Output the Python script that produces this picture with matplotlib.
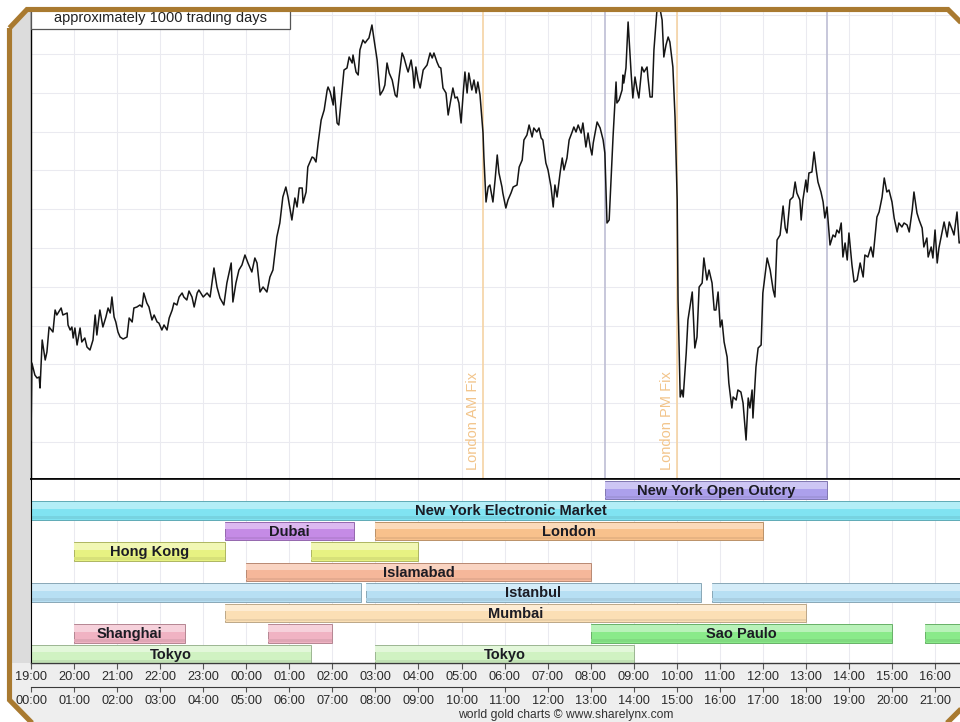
import numpy as np
import matplotlib
matplotlib.use("Agg")
import matplotlib.pyplot as plt
from matplotlib.patches import Rectangle, Polygon, PathPatch
from matplotlib.path import Path
from matplotlib import colors as mcolors

plt.rcParams['font.family'] = ['Liberation Sans', 'DejaVu Sans']

# ---------------- data ----------------
# hours after 19:00 (top clock) and a relative gold price index (axis unlabeled)
price_hours = [
    0.00, 0.02, 0.09, 0.14, 0.19, 0.21, 0.26, 0.33, 0.37, 0.42, 0.51, 0.56, 0.60, 0.70, 0.74, 0.84, 0.86, 0.91, 0.95, 0.98,
    1.02, 1.07, 1.14, 1.18, 1.25, 1.30, 1.37, 1.44, 1.49, 1.53, 1.60, 1.67, 1.74, 1.79, 1.84, 1.88, 1.93, 1.97,
    2.02, 2.07, 2.14, 2.23, 2.28, 2.35, 2.39, 2.46, 2.53, 2.58, 2.62, 2.69, 2.74, 2.81, 2.86, 2.93, 2.97,
    3.04, 3.09, 3.16, 3.21, 3.28, 3.32, 3.39, 3.44, 3.51, 3.55, 3.62, 3.67, 3.74, 3.79, 3.86, 3.90,
    4.00, 4.09, 4.16, 4.25, 4.32, 4.39, 4.48, 4.55, 4.65, 4.69, 4.76, 4.83, 4.90, 4.97,
    5.04, 5.13, 5.20, 5.25, 5.32, 5.39, 5.48, 5.55, 5.62, 5.71, 5.78, 5.85, 5.92, 5.97,
    6.06, 6.13, 6.18, 6.23, 6.30, 6.32, 6.39, 6.43, 6.53, 6.57, 6.62, 6.67, 6.74, 6.81, 6.88, 6.90, 6.95,
    7.02, 7.04, 7.11, 7.15, 7.27, 7.34, 7.39, 7.46, 7.48, 7.55, 7.60, 7.64, 7.71, 7.76, 7.81, 7.85, 7.92, 7.97,
    8.04, 8.11, 8.18, 8.22, 8.27, 8.32, 8.39, 8.46, 8.50, 8.55, 8.62, 8.66, 8.73, 8.76, 8.83, 8.87, 8.90, 8.94, 8.99,
    9.04, 9.11, 9.20, 9.27, 9.32, 9.36, 9.43, 9.48, 9.52, 9.57, 9.64, 9.69, 9.76, 9.80, 9.85, 9.90, 9.94, 9.99,
    10.04, 10.08, 10.13, 10.17, 10.24, 10.29, 10.34, 10.38, 10.43, 10.50, 10.52, 10.57, 10.62, 10.66, 10.73, 10.78, 10.83, 10.87, 10.94, 10.96,
    11.03, 11.08, 11.15, 11.20, 11.29, 11.34, 11.41, 11.45, 11.52, 11.57, 11.64, 11.68, 11.75, 11.80, 11.85, 11.89, 11.96,
    12.01, 12.08, 12.13, 12.17, 12.22, 12.29, 12.34, 12.38, 12.45, 12.50, 12.57, 12.61, 12.66, 12.71, 12.78, 12.82, 12.89, 12.94, 12.99,
    13.03, 13.06, 13.15, 13.22, 13.29, 13.33, 13.38, 13.43, 13.52, 13.59, 13.61, 13.66, 13.73, 13.75, 13.77, 13.82, 13.87, 13.94, 13.98,
    14.03, 14.08, 14.12, 14.19, 14.24, 14.31, 14.33, 14.38, 14.43, 14.47, 14.54, 14.59, 14.66, 14.70, 14.75, 14.80, 14.84, 14.91, 14.96,
    15.01, 15.03, 15.08, 15.12, 15.15, 15.22, 15.26, 15.36, 15.42, 15.47, 15.52, 15.59, 15.63, 15.70, 15.75, 15.82, 15.87, 15.91, 15.96,
    16.01, 16.05, 16.10, 16.17, 16.21, 16.28, 16.31, 16.38, 16.42, 16.49, 16.54, 16.61, 16.66, 16.70, 16.75, 16.77, 16.84, 16.89, 16.96,
    17.00, 17.10, 17.17, 17.24, 17.28, 17.33, 17.40, 17.47, 17.52, 17.56, 17.63, 17.70, 17.75, 17.79, 17.86, 17.89, 17.93,
    18.00, 18.03, 18.07, 18.14, 18.19, 18.24, 18.28, 18.35, 18.40, 18.44, 18.49, 18.56, 18.63, 18.68, 18.72, 18.77, 18.82, 18.86, 18.91, 18.96,
    19.00, 19.07, 19.12, 19.19, 19.26, 19.33, 19.37, 19.44, 19.51, 19.56, 19.65, 19.70, 19.77, 19.82, 19.88, 19.93,
    20.00, 20.05, 20.12, 20.16, 20.23, 20.28, 20.35, 20.40, 20.47, 20.51, 20.58, 20.63, 20.70, 20.74, 20.81, 20.84, 20.91, 20.95,
    21.00, 21.05, 21.09, 21.16, 21.21, 21.28, 21.33, 21.40, 21.44, 21.51, 21.56, 21.63,
]
price_index = [
    40, 117, 105, 102, 103, 92, 140, 120, 128, 153, 148, 170, 165, 172, 165, 167, 155, 150, 153, 142,
    152, 135, 152, 138, 142, 133, 130, 140, 165, 145, 170, 153, 163, 172, 167, 183, 163, 158,
    148, 143, 141, 143, 162, 158, 172, 173, 175, 173, 187, 177, 173, 160, 165, 158, 157,
    150, 155, 150, 162, 170, 177, 175, 183, 187, 183, 180, 189, 183, 173, 187, 190,
    183, 187, 183, 212, 193, 182, 175, 197, 217, 178, 197, 210, 215, 225,
    217, 208, 222, 217, 188, 193, 188, 203, 210, 243, 257, 283, 293, 283,
    260, 282, 273, 292, 292, 277, 288, 313, 323, 322, 318, 337, 360, 370, 390, 393, 388,
    375, 393, 357, 355, 410, 412, 423, 417, 425, 408, 405, 430, 440, 437, 440, 442, 455, 440,
    420, 385, 390, 395, 417, 407, 400, 385, 383, 403, 427, 423, 412, 408, 420, 408, 392, 413, 400,
    392, 410, 415, 427, 422, 427, 418, 413, 412, 392, 387, 365, 382, 392, 382, 383, 377, 357,
    387, 408, 387, 407, 390, 400, 387, 398, 385, 347, 323, 278, 293, 295, 278, 300, 325, 307, 293, 287,
    272, 280, 287, 293, 295, 313, 320, 340, 345, 355, 343, 352, 348, 352, 342, 340, 317,
    310, 293, 273, 295, 283, 307, 322, 310, 322, 340, 348, 353, 348, 355, 347, 357, 333, 347, 333,
    325, 337, 358, 352, 340, 327, 257, 260, 343, 398, 377, 380, 390, 405, 397, 412, 458, 407, 382,
    403, 390, 382, 413, 408, 413, 403, 383, 383, 430, 470, 476, 460, 423, 435, 443, 438, 413, 363,
    280, 180, 83, 90, 83, 127, 160, 188, 132, 143, 193, 197, 222, 200, 210, 197, 170, 170, 188,
    153, 160, 138, 123, 97, 72, 83, 80, 90, 88, 77, 40, 82, 72, 90, 62, 113, 132, 135,
    187, 222, 210, 190, 183, 240, 245, 274, 252, 247, 280, 283, 298, 287, 280, 260, 280,
    300, 288, 307, 308, 328, 310, 298, 288, 278, 262, 273, 235, 245, 243, 250, 247, 257, 223, 237, 220,
    247, 215, 198, 200, 217, 203, 225, 223, 233, 223, 263, 268, 283, 302, 288, 290,
    278, 262, 248, 257, 253, 257, 255, 248, 270, 288, 267, 260, 252, 233, 242, 223, 233, 222,
    250, 217, 232, 247, 258, 243, 258, 250, 245, 268, 237, 240,
]

top_tick_labels = ["19:00", "20:00", "21:00", "22:00", "23:00", "00:00", "01:00", "02:00",
                   "03:00", "04:00", "05:00", "06:00", "07:00", "08:00", "09:00", "10:00",
                   "11:00", "12:00", "13:00", "14:00", "15:00", "16:00"]
bottom_tick_labels = ["00:00", "01:00", "02:00", "03:00", "04:00", "05:00", "06:00", "07:00",
                      "08:00", "09:00", "10:00", "11:00", "12:00", "13:00", "14:00", "15:00",
                      "16:00", "17:00", "18:00", "19:00", "20:00", "21:00"]

fix_names = ["London AM Fix", "London PM Fix"]
fix_hours = [10.5, 15.0]
outcry_hours = [13.33, 18.5]

market_names = ["New York Open Outcry", "New York Electronic Market", "Dubai", "London",
                "Hong Kong", "Islamabad", "Istanbul", "Mumbai", "Shanghai", "Sao Paulo", "Tokyo"]
market_rows = [0, 1, 2, 2, 3, 4, 5, 6, 7, 7, 8]
market_sessions = [
    [(13.33, 18.5)],
    [(0.0, 22.3)],
    [(4.5, 7.5)],
    [(8.0, 17.0)],
    [(1.0, 4.5), (6.5, 9.0)],
    [(5.0, 13.0)],
    [(0.0, 7.67), (7.78, 15.56), (15.81, 24.0)],
    [(4.5, 18.0)],
    [(1.0, 3.58), (5.5, 7.0)],
    [(13.0, 20.0), (20.77, 24.0)],
    [(0.0, 6.5), (8.0, 14.0)],
]
market_labelled = [[0], [0], [0], [0], [0], [0], [1], [0], [0], [0], [0, 1]]
market_colors = ['#ACA0EC', '#80E3F2', '#C58BE6', '#F8C18C', '#E7F282', '#F5B79A',
                 '#B7DFF3', '#FBDFB5', '#F0B3C3', '#8AEA8A', '#D0F2C2']

legend_text = "approximately 1000 trading days"
footer_text = "world gold charts \u00a9 www.sharelynx.com"

# ---------------- layout ----------------
W, H = 960, 722
PXH = 43.05       # pixels per hour
X0, XR = 31, 970  # left edge of plots, right edge (beyond image)
xmax = (XR - X0) / PXH

fig = plt.figure(figsize=(W / 100, H / 100), dpi=100)
fig.patch.set_facecolor('white')


def fx(px):
    return px / W


def fy(py):
    return 1 - py / H


octagon_px = [(9.5, 28), (27, 9.5), (948, 9.5), (966, 27.5), (966, 704), (946, 724), (33, 724), (9.5, 700)]
octagon = [(fx(x), fy(y)) for x, y in octagon_px]

fig.add_artist(Polygon(octagon, closed=True, transform=fig.transFigure,
                       facecolor='#DCDCDC', edgecolor='none', zorder=-5))
fig.add_artist(Rectangle((fx(9.5), fy(724)), fx(966) - fx(9.5), (724 - 663) / H,
                         transform=fig.transFigure, facecolor='#EEEEEE', edgecolor='none', zorder=-4))

grid_c = '#EAEAF0'

# ---- price panel ----
ax_p = fig.add_axes([fx(X0), fy(479), fx(XR) - fx(X0), 479 / H])
ax_p.set_facecolor('white')
ax_p.set_xlim(0, xmax)
ax_p.set_ylim(1, 480)
for s in ['top', 'right']:
    ax_p.spines[s].set_visible(False)
ax_p.spines['left'].set_color('black')
ax_p.spines['left'].set_linewidth(1.0)
ax_p.spines['bottom'].set_color('black')
ax_p.spines['bottom'].set_linewidth(1.2)
ax_p.set_xticks(range(0, 22))
ax_p.set_yticks(np.arange(38, 480, 38.8))
ax_p.tick_params(length=0, labelbottom=False, labelleft=False)
ax_p.grid(True, color=grid_c, lw=0.75)
ax_p.set_axisbelow(True)

for h in outcry_hours:
    ax_p.axvline(h, color='#BEBED4', lw=1.2, zorder=2)
for h, name in zip(fix_hours, fix_names):
    ax_p.axvline(h, color='#F5D3A4', lw=1.2, zorder=2)
    ax_p.annotate(name, xy=(h, 10), xytext=(-2, 0), textcoords='offset points',
                  rotation=90, ha='right', va='bottom', color='#F2C48A', fontsize=10.5, zorder=2)

ax_p.plot(price_hours, price_index, color='#151515', lw=1.1, zorder=3)

# legend box (cut at top)
fig.add_artist(Rectangle((fx(31), fy(29)), fx(290) - fx(31), 40 / H, transform=fig.transFigure,
                         facecolor='white', edgecolor='#555555', lw=0.9, zorder=6))
fig.text(fx(160.5), fy(22), legend_text, ha='center', va='baseline', fontsize=10.5,
         color='#222222', zorder=7)

# ---- market sessions panel ----
ax_g = fig.add_axes([fx(X0), fy(663), fx(XR) - fx(X0), (663 - 479) / H])
ax_g.set_facecolor('white')
ax_g.set_xlim(0, xmax)
ax_g.set_ylim(8.44, -0.54)
ax_g.spines['right'].set_visible(False)
ax_g.spines['top'].set_color('black')
ax_g.spines['top'].set_linewidth(1.2)
ax_g.spines['left'].set_color('black')
ax_g.spines['bottom'].set_color('#3a3a3a')
ax_g.spines['bottom'].set_linewidth(1.0)
ax_g.set_yticks([])
ax_g.set_xticks(range(0, 22))
ax_g.set_xticklabels(top_tick_labels)
ax_g.tick_params(axis='x', length=4.5, width=0.8, color='#555555', labelsize=9.2,
                 labelcolor='#2a2a2a', pad=1.5)
ax_g.grid(axis='x', color=grid_c, lw=0.75)
ax_g.set_axisbelow(True)


def mix(c, other, t):
    a = np.array(mcolors.to_rgb(c))
    b = np.array(mcolors.to_rgb(other))
    return tuple(a * (1 - t) + b * t)


bar_h = 0.9
for name, row, sessions, labelled, col in zip(market_names, market_rows, market_sessions,
                                              market_labelled, market_colors):
    for i, (s, e) in enumerate(sessions):
        top = row - bar_h / 2
        ax_g.add_patch(Rectangle((s, top), e - s, bar_h, facecolor=col,
                                 edgecolor=mix(col, 'black', 0.25), lw=0.7, zorder=2))
        ax_g.add_patch(Rectangle((s, top + 0.05), e - s, bar_h * 0.36,
                                 facecolor=mix(col, 'white', 0.4), edgecolor='none', zorder=2.1))
        ax_g.add_patch(Rectangle((s, row + bar_h * 0.3), e - s, bar_h * 0.15,
                                 facecolor=mix(col, 'black', 0.07), edgecolor='none', zorder=2.1))
        if i in labelled:
            ax_g.text((s + e) / 2, row + 0.03, name, ha='center', va='center', fontsize=10.5,
                      fontweight='bold', color='#1c1c24', zorder=3)

# ---- second time row ----
ax_b = fig.add_axes([fx(X0), fy(687), fx(XR) - fx(X0), 1e-4])
ax_b.set_xlim(0, xmax)
ax_b.patch.set_alpha(0)
for s in ['top', 'left', 'right']:
    ax_b.spines[s].set_visible(False)
ax_b.spines['bottom'].set_color('#3a3a3a')
ax_b.set_yticks([])
ax_b.set_xticks(range(0, 22))
ax_b.set_xticklabels(bottom_tick_labels)
ax_b.tick_params(axis='x', length=3.5, width=0.8, color='#555555', labelsize=9.2,
                 labelcolor='#2a2a2a', pad=2.5)

fig.text(fx(566), fy(715), footer_text, ha='center', va='center', fontsize=8.7, color='#333333')

# ---- outer mask and frame ----
outer = [(0, 0), (1, 0), (1, 1), (0, 1), (0, 0)]
verts = outer + octagon + [octagon[0]]
codes = [Path.MOVETO, Path.LINETO, Path.LINETO, Path.LINETO, Path.CLOSEPOLY] + \
        [Path.MOVETO] + [Path.LINETO] * (len(octagon) - 1) + [Path.CLOSEPOLY]
fig.add_artist(PathPatch(Path(verts, codes), facecolor='white', edgecolor='none',
                         transform=fig.transFigure, zorder=8))
fig.add_artist(Polygon(octagon, closed=True, fill=False, edgecolor='#A97A30', lw=3.7,
                       joinstyle='miter', transform=fig.transFigure, zorder=10))

fig.savefig('out.png', dpi=100)
